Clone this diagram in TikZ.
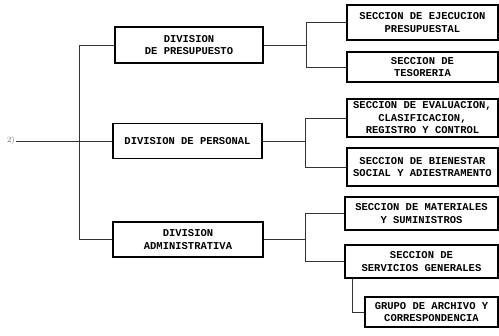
\documentclass[tikz,border=0pt]{standalone}
\usepackage{fontspec}
\setmonofont{Liberation Mono}
\begin{document}
\begin{tikzpicture}[x=1pt,y=-1pt,
  box/.style={draw=black,line width=1.3pt,align=center,inner sep=0pt,
    font=\ttfamily\bfseries\fontsize{10.5}{12.5}\selectfont},
  conn/.style={draw=black!80,line width=0.8pt}]
\useasboundingbox (0,0) rectangle (499,336);
\node[box,minimum width=148,minimum height=36] (dp) at (189,45) {DIVISION\\DE PRESUPUESTO};
\node[box,minimum width=149,minimum height=35] (dper) at (187.5,141) {DIVISION DE PERSONAL};
\node[box,minimum width=150,minimum height=35] (da) at (188,239.5) {DIVISION\\ADMINISTRATIVA};
\node[box,minimum width=151,minimum height=35] (s1) at (422.5,22.5) {SECCION DE EJECUCION\\PRESUPUESTAL};
\node[box,minimum width=151,minimum height=30] (s2) at (422.5,67) {SECCION DE\\TESORERIA};
\node[box,minimum width=151,minimum height=38] (s3) at (422.5,118) {SECCION DE EVALUACION,\\CLASIFICACION,\\REGISTRO Y CONTROL};
\node[box,minimum width=151,minimum height=38] (s4) at (422.5,167) {SECCION DE BIENESTAR\\SOCIAL Y ADIESTRAMENTO};
\node[box,minimum width=153,minimum height=33] (s5) at (421.5,213.5) {SECCION DE MATERIALES\\Y SUMINISTROS};
\node[box,minimum width=153,minimum height=33] (s6) at (421.5,261.5) {SECCION DE\\SERVICIOS GENERALES};
\node[box,minimum width=133,minimum height=30] (g) at (431.5,312) {GRUPO DE ARCHIVO Y\\CORRESPONDENCIA};
\node[font=\fontsize{8}{8}\selectfont,text=black!60,inner sep=1pt] (lbl) at (11,141) {2)};
\coordinate (t) at (79,0);
\coordinate (b1) at (306,0);
\coordinate (b2) at (305,0);
\coordinate (b3) at (305,0);
\coordinate (gx) at (352,0);
\draw[conn] (dp.west) -- (dp.west -| t) -- (da.west -| t) -- (da.west);
\draw[conn] (lbl.east) -- (dper.west);
\draw[conn] (dp.east) -- (dp.east -| b1);
\draw[conn] (s1.west) -- (s1.west -| b1) -- (s2.west -| b1) -- (s2.west);
\draw[conn] (dper.east) -- (dper.east -| b2);
\draw[conn] (s3.west) -- (s3.west -| b2) -- (s4.west -| b2) -- (s4.west);
\draw[conn] (da.east) -- (da.east -| b3);
\draw[conn] (s5.west) -- (s5.west -| b3) -- (s6.west -| b3) -- (s6.west);
\draw[conn] (s6.south -| gx) |- (g.west);
\end{tikzpicture}
\end{document}
